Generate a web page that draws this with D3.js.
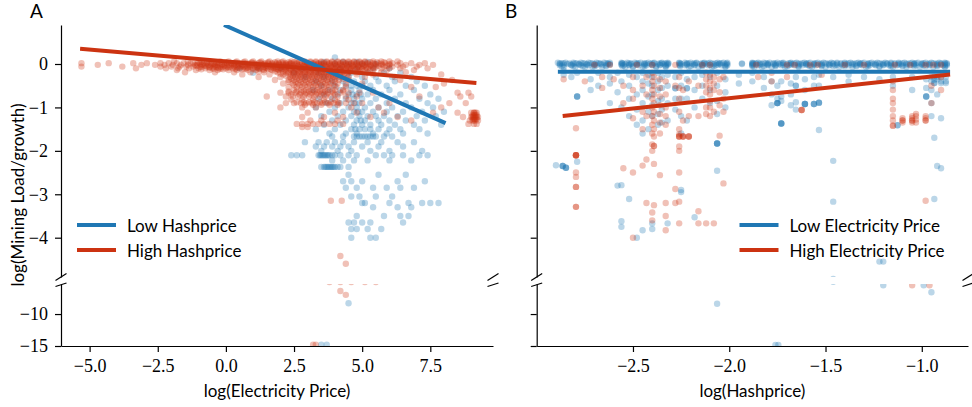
<!DOCTYPE html>
<html>
<head>
<meta charset="utf-8">
<script src="https://cdn.jsdelivr.net/npm/d3@7/dist/d3.min.js"></script>
<style>
  body { margin: 0; background: #fff; }
  .lab { font-family: Lato, "Open Sans", sans-serif; fill: #000; }
  .tick text { font-family: "Liberation Serif"; font-size: 18px; }
</style>
</head>
<body>
<svg id="chart" width="972" height="407"></svg>
<script>
// ---- data ----
// panel A: rows of [y, [x values]]  (x = log electricity price)
const aHighRows = [
  [0.06, [-1.9,-1.4,-0.9,-0.6,-0.2,0.1,0.4,0.7,1.0,1.3,1.6,1.9,2.1,2.4,2.6,2.9,3.1,3.3,3.5,3.7,3.9,4.1,4.3,4.5,4.7,4.9,5.1,5.4,5.7,6.0,6.3]],
  [0.04, [-1.0,-0.7,-0.35,0.0,0.35,0.65,0.95,1.25,1.55,1.8,2.05,2.3,2.5,2.7,2.9,3.1,3.3,3.5,3.7,3.9,4.1,4.3,4.5,4.7,4.9,5.1,5.3,5.55,5.8]],
  [0.02, [-5.3,-4.3,-3.4,-2.9,-2.4,-2.1,-1.8,-1.55,-1.3,-1.05,-0.8,-0.55,-0.3,-0.05,0.2,0.45,0.7,0.95,1.2,1.45,1.7,1.95,2.2,2.4,2.6,2.8,3.0,3.2,3.4,3.6,3.8,4.0,4.2,4.4,4.6,4.8,5.0,5.2,5.4,5.6,5.85,6.1,6.4,6.8,7.3]],
  [0.01, [-1.2,-0.95,-0.7,-0.45,-0.25,0.05,0.3,0.55,0.85,1.05,1.3,1.55,1.85,2.1,2.35]],
  [0.0, [-0.85,-0.5,-0.15,0.2,0.5,0.8,1.1,1.4,1.7,1.95,2.2,2.4,2.6,2.8,3.0,3.2,3.4,3.6,3.8,4.0,4.2,4.4,4.6,4.8,5.0,5.2,5.45,5.7,6.0]],
  [-0.02, [-4.7,-3.1,-2.6,-2.25,-1.95,-1.65,-1.4,-1.15,-0.9,-0.65,-0.4,-0.15,0.1,0.35,0.6,0.85,1.1,1.35,1.6,1.85,2.1,2.3,2.5,2.7,2.9,3.1,3.3,3.5,3.7,3.9,4.1,4.3,4.5,4.7,4.9,5.1,5.3,5.5,5.75,6.0,6.3,6.6,7.1,7.6]],
  [-0.03, [-1.05,-0.8,-0.55,-0.3,-0.05,0.2,0.45,0.7,0.95,1.2,1.45,1.7,1.95,2.2]],
  [-0.04, [-1.1,-0.75,-0.4,-0.05,0.3,0.6,0.9,1.2,1.5,1.75,2.0,2.25,2.45,2.65,2.85,3.05,3.25,3.45,3.65,3.85,4.05,4.25,4.45,4.65,4.85,5.05,5.3,5.6,5.9]],
  [-0.06, [-5.3,-3.8,-2.4,-2.0,-1.7,-1.45,-1.2,-0.95,-0.7,-0.45,-0.2,0.05,0.3,0.55,0.8,1.05,1.3,1.55,1.8,2.05,2.25,2.45,2.65,2.85,3.05,3.25,3.45,3.65,3.85,4.05,4.25,4.45,4.65,4.85,5.05,5.25,5.5,5.8,6.1,6.5,7.0]],
  [-0.07, [-0.9,-0.6,-0.35,-0.1,0.15,0.4,0.65,0.9,1.15,1.4,1.65,1.9,2.15]],
  [-0.08, [-0.6,-0.3,0.1,0.45,0.8,1.15,1.45,1.75,2.0,2.3,2.5,2.7,2.9,3.1,3.3,3.5,3.7,3.9,4.1,4.3,4.5,4.7,4.9,5.15,5.4]],
  [-0.1, [-3.3,-2.2,-1.75,-1.35,-1.0,-0.75,-0.5,-0.25,0.0,0.25,0.5,0.75,1.0,1.25,1.5,1.75,2.0,2.2,2.4,2.6,2.8,3.0,3.2,3.4,3.6,3.8,4.0,4.2,4.4,4.6,4.8,5.0,5.2,5.45,5.7,6.0,6.4,7.4]],
  [-0.11, [-0.45,-0.2,0.35,0.7,1.2,1.55,1.85,2.05]],
  [-0.12, [-0.9,-0.1,0.6,1.0,1.35,1.65,1.9,2.15,2.35,2.55,2.75,2.95,3.15,3.35,3.55,3.75,3.95,4.15,4.35,4.55,4.75,5.0,5.3]],
  [-0.14, [-1.8,-1.1,-0.6,-0.3,0.1,0.4,0.8,1.1,1.4,1.7,1.95,2.2,2.4,2.6,2.8,3.0,3.2,3.4,3.6,3.8,4.0,4.2,4.4,4.6,4.85,5.1,5.4,5.9,6.9]],
  [-0.17, [1.2,1.8,2.1,2.3,2.5,2.7,2.9,3.1,3.3,3.5,3.7,3.9,4.1,4.3,4.55,4.9]],
  [-0.19, [-1.5,-0.4,0.3,0.9,1.4,1.9,2.2,2.45,2.65,2.85,3.05,3.25,3.45,3.65,3.85,4.05,4.25,4.5,4.8,5.2,5.7,6.6]],
  [-0.22, [2.0,2.3,2.5,2.7,2.9,3.1,3.3,3.5,3.7,3.9,4.1,4.35]],
  [-0.24, [0.6,1.6,2.1,2.4,2.6,2.8,3.0,3.2,3.4,3.6,3.8,4.0,4.2,4.45,4.8,5.4,7.9]],
  [-0.27, [2.2,2.45,2.65,2.85,3.05,3.25,3.45,3.65,3.85,4.05,4.3]],
  [-0.3, [1.2,2.0,2.35,2.55,2.75,2.95,3.15,3.35,3.55,3.75,3.95,4.2,4.5,5.1,6.2]],
  [-0.34, [2.4,2.6,2.8,3.0,3.2,3.4,3.6,3.8,4.0,4.3]],
  [-0.37, [1.8,2.3,2.5,2.7,2.9,3.1,3.3,3.5,3.7,3.9,4.15,4.5,6.4,8.3]],
  [-0.41, [2.3,2.55,2.75,2.95,3.15,3.35,3.55,3.75,4.0]],
  [-0.45, [2.1,2.45,2.65,2.85,3.05,3.25,3.45,3.65,3.85,4.1,4.4,5.0,8.0]],
  [-0.49, [2.5,2.7,2.9,3.1,3.3,3.5,3.7,3.95]],
  [-0.53, [2.3,2.6,2.8,3.0,3.2,3.4,3.6,3.8,4.05,4.4,6.8,7.7]],
  [-0.6, [2.5,2.75,2.95,3.15,3.35,3.55,3.75,4.0,4.3]],
  [-0.63, [2.3,2.6,2.85,3.05,3.25,3.45,3.65,3.9,4.3]],
  [-0.66, [2.0,2.3,2.55,2.75,2.95,3.15,3.35,3.55,3.75,3.95,4.2,4.5,4.9,5.4,8.5,8.9]],
  [-0.7, [2.4,2.7,2.9,3.1,3.3,3.5,3.7,4.0]],
  [-0.75, [1.5,2.2,2.45,2.65,2.85,3.05,3.25,3.45,3.65,3.85,4.1,4.4,4.8,7.1,8.6,9.0]],
  [-0.82, [2.4,2.8,3.2,3.6,4.0,4.5]],
  [-0.88, [2.6,2.85,3.05,3.25,3.45,3.65,3.85,4.1]],
  [-0.9, [2.2,2.5,2.75,2.95,3.15,3.35,3.55,3.75,3.95,4.15,4.4,4.7,5.0,6.0,8.2,8.8]],
  [-0.94, [2.9,3.2,3.5,3.8,4.1]],
  [-1.0, [2.0,2.8,3.3,4.6,5.6,7.9]],
  [-1.12, [3.0,4.0,4.8,5.8,7.6,8.5,9.0,9.1,9.2,9.15,9.1]],
  [-1.18, [9.05,9.15,9.2,9.1]],
  [-1.22, [2.8,3.6,4.3,5.3,6.3,8.7,9.0,9.05,9.15,9.25,9.1,9.2]],
  [-1.26, [9.05,9.1,9.2,9.15]],
  [-1.3, [3.1,3.5,4.1,6.8,8.95,9.05,9.15,9.25,9.1]],
  [-1.38, [2.6,2.8,3.0,3.2,3.4,3.6,3.8,4.0,4.3,8.9,9.1,9.2]],
  [-1.45, [2.8,3.0]],
  [-3.15, [3.85,4.25]],
  [-4.42, [4.2]],
  [-4.6, [4.4]],
  [-5.0, [3.8,4.2,4.6,5.1,5.5]],
  [-6.4, [4.2]],
  [-7.0, [4.4]],
  [-14.8, [3.2,3.3]]
];
const aLowRows = [
  [0.15, [4.0]],
  [0.05, [3.6,4.3,4.8,5.2]],
  [0.0, [3.0,3.5,4.0,4.5,5.0,5.5]],
  [-0.1, [0.5,1.2,2.0,2.8,3.5,4.2,4.8,5.4,6.0]],
  [-0.2, [1.0,2.5,3.4,4.0,4.6,5.2,5.8,6.4]],
  [-0.3, [2.9,3.6,4.1,4.5,5.0,5.5,6.1,6.8]],
  [-0.4, [3.3,3.9,4.3,4.7,5.1,5.6,6.2,7.0]],
  [-0.5, [3.5,4.0,4.4,4.8,5.3,5.9,6.6,7.3,4.6,5.0]],
  [-0.6, [3.2,3.8,4.2,4.6,4.9,5.4,6.0,6.9]],
  [-0.7, [3.6,4.1,4.5,4.8,5.2,5.7,6.4,7.5,4.65,4.95]],
  [-0.8, [3.4,3.9,4.4,4.7,5.0,5.5,6.2,7.1,7.8]],
  [-0.9, [3.7,4.2,4.6,4.9,5.3,5.9,6.6,7.4,4.75]],
  [-1.0, [3.3,4.0,4.5,4.8,5.1,5.6,6.1,6.8,7.6]],
  [-1.1, [3.8,4.3,4.7,5.0,5.4,5.9,6.5,7.2,8.0,4.85]],
  [-1.2, [3.5,4.1,4.6,4.9,5.2,5.5,5.8,6.3,7.0,7.7]],
  [-1.3, [3.9,4.4,4.8,5.1,5.6,6.0,6.6,7.3,4.95]],
  [-1.4, [3.6,4.2,4.7,5.0,5.3,5.7,6.2,6.9,7.9]],
  [-1.5, [3.3,4.0,4.6,4.9,5.1,5.3,5.6,6.0,6.4,7.1,4.75]],
  [-1.6, [3.8,4.4,4.8,5.4,5.9,6.5,7.4]],
  [-1.67, [3.9,4.3,4.7,4.9,5.1,5.3,5.5,5.8,6.1,4.8,5.2,5.0,5.4]],
  [-1.8, [2.9,3.4,3.7,4.0,4.3,4.7,5.2,5.7,6.3,6.9]],
  [-1.9, [3.3,3.6,3.9,4.2,4.5,5.0,5.6,6.5]],
  [-2.0, [3.5,4.1,4.6,5.3,6.0,7.2]],
  [-2.1, [2.4,2.6,2.8,3.4,3.5,3.6,3.7,3.8,3.9,4.0,4.2,4.5,4.8,5.5,5.8,6.1,6.5,7.1,7.4,3.55,3.75,3.45,3.65]],
  [-2.22, [3.9,4.3,4.7,5.2,6.0,6.8]],
  [-2.37, [3.5,3.6,3.7,3.8,3.9,4.0,4.1,4.2,4.5,3.65,3.85,3.75,3.95]],
  [-2.55, [4.5,5.6,6.6]],
  [-2.7, [4.3,4.6,5.0,6.3,7.3]],
  [-2.85, [4.4,4.8,5.4,5.9,6.4,6.9]],
  [-3.05, [4.6,4.9,5.5,6.1]],
  [-3.2, [5.0,5.1,6.0,6.7,7.2,7.5,7.8]],
  [-3.3, [5.4,6.3,6.8]],
  [-3.5, [4.8,5.8,6.4,6.7]],
  [-3.65, [4.5,4.7,5.0,5.3,6.5]],
  [-3.8, [4.6,4.8,5.2,5.7]],
  [-4.0, [4.6,5.3,5.5]],
  [-8.3, [4.5]],
  [-14.8, [3.5,3.7]]
];

// panel B: x = log hashprice
const bLowRows = [
  [0.03, [-2.89,-2.85,-2.81,-2.77,-2.73,-2.69,-2.65,-2.62,-2.56,-2.53,-2.49,-2.46,-2.42,-2.39,-2.35,-2.32,-2.26,-2.23,-2.2,-2.17,-2.13,-2.1,-2.06,-2.03,-2.01,-1.88,-1.85,-1.82,-1.79,-1.75,-1.72,-1.68,-1.65,-1.61,-1.58,-1.54,-1.51,-1.47,-1.44,-1.4,-1.37,-1.33,-1.3,-1.26,-1.23,-1.19,-1.16,-1.12,-1.09,-1.05,-1.02,-0.98,-0.95,-0.91,-0.88]],
  [0.02, [-2.88,-2.86,-2.8,-2.76,-2.72,-2.68,-2.64,-2.555,-2.52,-2.48,-2.44,-2.4,-2.36,-2.33,-2.26,-2.22,-2.18,-2.14,-2.11,-2.07,-2.04,-1.88,-1.86,-1.81,-1.77,-1.73,-1.69,-1.66,-1.62,-1.59,-1.55,-1.5,-1.46,-1.42,-1.38,-1.34,-1.31,-1.27,-1.22,-1.18,-1.14,-1.1,-1.06,-1.03,-0.99,-0.94,-0.9,-0.87]],
  [0.015, [-2.87,-2.83,-2.79,-2.75,-2.71,-2.67,-2.63,-2.555,-2.51,-2.47,-2.43,-2.39,-2.35,-2.315,-2.255,-2.21,-2.17,-2.13,-2.09,-2.05,-2.015,-1.934,-1.875,-1.84,-1.8,-1.76,-1.72,-1.68,-1.64,-1.6,-1.56,-1.52,-1.48,-1.44,-1.4,-1.36,-1.32,-1.28,-1.24,-1.2,-1.16,-1.12,-1.08,-1.04,-1.0,-0.96,-0.92,-0.88]],
  [0.0, [-2.88,-2.84,-2.81,-2.78,-2.74,-2.7,-2.67,-2.63,-2.62,-2.56,-2.54,-2.51,-2.48,-2.44,-2.41,-2.37,-2.34,-2.32,-2.25,-2.22,-2.19,-2.15,-2.12,-2.08,-2.05,-2.01,-1.934,-1.88,-1.86,-1.83,-1.8,-1.77,-1.74,-1.7,-1.67,-1.63,-1.6,-1.56,-1.53,-1.49,-1.46,-1.42,-1.39,-1.35,-1.32,-1.28,-1.25,-1.21,-1.18,-1.14,-1.11,-1.07,-1.04,-1.0,-0.97,-0.93,-0.9,-0.87]],
  [-0.015, [-2.86,-2.82,-2.78,-2.74,-2.7,-2.66,-2.62,-2.56,-2.52,-2.48,-2.44,-2.4,-2.36,-2.32,-2.26,-2.22,-2.18,-2.14,-2.1,-2.06,-2.02,-1.88,-1.84,-1.8,-1.76,-1.72,-1.68,-1.64,-1.6,-1.56,-1.52,-1.48,-1.44,-1.4,-1.36,-1.32,-1.28,-1.24,-1.2,-1.16,-1.12,-1.08,-1.04,-1.0,-0.96,-0.92,-0.88]],
  [-0.03, [-2.88,-2.82,-2.77,-2.73,-2.69,-2.64,-2.55,-2.52,-2.47,-2.43,-2.4,-2.36,-2.33,-2.255,-2.23,-2.18,-2.14,-2.11,-2.07,-2.04,-2.01,-1.88,-1.85,-1.8,-1.76,-1.73,-1.69,-1.66,-1.62,-1.59,-1.55,-1.52,-1.48,-1.45,-1.41,-1.38,-1.34,-1.31,-1.27,-1.24,-1.2,-1.17,-1.13,-1.1,-1.06,-1.03,-0.99,-0.96,-0.92,-0.89,-0.87]],
  [-0.05, [-2.87,-2.81,-2.76,-2.7,-2.64,-2.555,-2.5,-2.44,-2.38,-2.33,-2.255,-2.2,-2.14,-2.08,-2.02,-1.88,-1.82,-1.76,-1.7,-1.64,-1.58,-1.52,-1.46,-1.4,-1.34,-1.28,-1.22,-1.16,-1.1,-1.04,-0.98,-0.92,-0.88]],
  [-0.07, [-2.86,-2.8,-2.75,-2.71,-2.66,-2.54,-2.5,-2.45,-2.38,-2.33,-2.21,-2.16,-2.09,-2.02,-1.87,-1.83,-1.78,-1.71,-1.64,-1.57,-1.5,-1.43,-1.36,-1.29,-1.22,-1.15,-1.08,-1.01,-0.94,-0.88]]
];
// columns of [x, [y values]]
const bLowCols = [
  [-2.86, [-0.15,-0.25]], [-2.82, [-0.3]], [-2.79, [-0.75,-0.75,-0.75,-0.2,-2.25]],
  [-2.9, [-2.33]], [-2.865, [-2.35,-2.35,-2.35]], [-2.848, [-2.39,-2.39,-2.39]],
  [-2.72, [-0.35,-0.6]], [-2.68, [-0.2,-0.5]], [-2.62, [-0.3,-0.45,-0.9]],
  [-2.58, [-0.2,-0.65,-2.8]], [-2.56, [-0.4,-1.0,-2.79,-3.62,-3.75]],
  [-2.52, [-0.25,-0.5,-0.8,-1.2,-3.11]], [-2.48, [-0.3,-0.7,-1.05,-1.4,-4.0]],
  [-2.45, [-0.2,-0.4,-0.6,-0.9,-1.3,-1.6,-3.83]], [-2.42, [-0.25,-0.45,-0.75,-1.1,-1.5]],
  [-2.4, [-0.3,-0.5,-0.7,-0.95,-1.2,-3.67,-3.8]], [-2.37, [-0.2,-0.4,-0.6,-0.85,-1.15,-1.4]],
  [-2.35, [-0.3,-0.55,-0.8,-1.05,-1.35]], [-2.32, [-0.25,-0.5,-0.9,-1.3,-3.67]],
  [-2.28, [-0.3,-0.56,-0.56,-0.8,-1.05]], [-2.25, [-0.2,-0.5,-0.8,-1.2,-1.6,-2.9,-2.95]],
  [-2.22, [-0.35,-0.56,-0.56,-0.8,-1.3]], [-2.18, [-0.3,-0.6,-1.0,-3.53]],
  [-2.14, [-0.25,-0.5,-0.8]], [-2.1, [-0.3,-0.6,-0.9]],
  [-2.063, [-0.2,-0.5,-0.85,-1.15,-1.83,-1.83,-1.83,-1.83,-2.46]], [-2.02, [-0.35,-0.65,-1.0]],
  [-1.95, [-0.25,-0.45]], [-1.88, [-0.2,-0.4]], [-1.82, [-0.3,-0.55]],
  [-1.78, [-0.4,-0.7,-0.95]], [-1.75, [-0.5,-0.8,-0.9,-0.9,-0.9,-0.9]],
  [-1.73, [-0.4,-0.75,-0.85,-1.37,-1.37,-1.37,-1.37]], [-1.68, [-0.45,-0.7,-0.95]],
  [-1.654, [-0.3,-0.5,-0.5,-0.88,-1.05]], [-1.607, [-0.35,-0.6,-0.92,-0.92,-0.92,-0.92]],
  [-1.56, [-0.3,-0.5,-0.92,-0.92,-0.92]], [-1.534, [-0.25,-0.5,-0.89,-0.89,-0.89,-1.52]],
  [-1.46, [-0.3,-2.23,-3.17]], [-1.38, [-0.25,-0.4]], [-1.3, [-0.3]],
  [-1.22, [-0.35,-4.55]], [-1.15, [-0.3,-0.5]], [-1.126, [-1.41,-1.41]],
  [-1.05, [-0.3,-0.6]], [-0.977, [-0.35,-0.55,-0.75,-0.75,-0.75]],
  [-0.95, [-0.3,-0.4,-0.6,-0.9,-1.2]], [-0.935, [-0.29,-0.36,-0.44,-0.44,-1.7,-3.11]],
  [-0.92, [-0.3,-0.35,-0.7,-2.35]], [-0.9, [-0.3,-0.4,-0.44,-1.25,-2.4]],
  [-0.875, [-0.3,-0.4,-0.44]],
  [-2.063, [-8.4]], [-1.76, [-14.85]], [-1.745, [-14.85]],
  [-0.95, [-6.6]], [-0.99, [-5.5]], [-1.2, [-5.5,-4.55]], [-1.46, [-4.95]]
];
const bHighRows = [
  [-0.02, [-2.7,-2.62,-2.48,-2.4,-2.28,-2.14,-2.1,-1.86,-1.7,-1.66,-1.58,-1.54,-1.4,-1.3,-1.14,-1.06,-0.98,-0.94,-0.9]]
];
const bHighCols = [
  [-2.86, [-0.35]], [-2.796, [-2.1,-2.1,-2.1,-2.1,-2.1,-1.48,-2.5,-2.6,-2.83,-2.83,-3.29,-3.29]],
  [-2.75, [-0.4]], [-2.66, [-0.3,-0.55]], [-2.6, [-0.35]],
  [-2.55, [-0.5,-0.9,-2.4]], [-2.5, [-0.3,-0.6,-0.8,-1.25,-2.5,-4.0]],
  [-2.45, [-0.5,-1.1,-1.5,-2.34]], [-2.43, [-0.3,-0.7,-1.2,-2.2,-3.2]],
  [-2.4, [-0.2,-0.4,-0.6,-0.8,-1.0,-1.2,-1.4,-1.6,-1.85,-2.0,-3.42,-3.6]],
  [-2.391, [-0.3,-0.5,-0.7,-0.9,-1.1,-1.3,-1.5,-1.67,-1.89,-1.89,-2.3,-3.25]],
  [-2.36, [-0.35,-0.55,-0.75,-0.95,-1.15,-1.35,-1.6,-2.56]],
  [-2.33, [-0.4,-0.7,-1.0,-1.2,-1.4,-3.5,-3.2,-3.83]],
  [-2.28, [-0.5,-2.88,-3.2]],
  [-2.26, [-0.3,-0.55,-0.8,-1.1,-1.5,-1.62,-1.67,-1.67,-1.67,-1.9,-2.0,-2.5,-3.17,-3.67]],
  [-2.24, [-0.6,-1.3,-1.67,-1.67,-1.67]], [-2.21, [-0.4,-1.2,-1.67,-1.67,-1.67]],
  [-2.16, [-0.5,-1.2,-3.39,-3.67]], [-2.12, [-0.2,-0.35,-0.5,-0.65,-1.0,-1.15,-3.67]],
  [-2.1, [-0.25,-0.4,-0.55,-0.7,-0.85,-1.0,-1.2]], [-2.08, [-0.3,-0.45,-0.6,-1.1,-3.67]],
  [-2.05, [-0.35,-0.65,-0.95,-1.65]], [-2.03, [-0.3,-0.8,-1.1,-2.75]],
  [-1.85, [-0.3]], [-1.78, [-0.2,-0.4]], [-1.7, [-0.3]], [-1.624, [-1.06,-1.06,-1.06]],
  [-1.52, [-0.25]],
  [-1.15, [-0.4,-0.6,-0.8,-0.9,-1.05,-1.2,-1.3,-1.42,-1.42]],
  [-1.1, [-1.25,-1.3,-1.35,-1.3]], [-1.05, [-1.2,-1.25,-1.3,-1.3,-1.35]],
  [-1.03, [-1.15,-1.2,-1.28,-1.35]], [-0.98, [-1.2,-1.25,-1.3,-1.3,-3.15]],
  [-0.95, [-0.5,-0.9]], [-0.9, [-0.3,-0.6]],
  [-1.05, [-5.5]], [-0.96, [-5.5]]
];

// regression lines: [[x0, y0], [x1, y1]]
const lineALow = [[-0.07, 0.9], [8.06, -1.36]];
const lineAHigh = [[-5.35, 0.35], [9.19, -0.44]];
const lineBLow = [[-2.89, -0.177], [-0.853, -0.177]];
const lineBHigh = [[-2.865, -1.2], [-0.853, -0.24]];

const xTicksA = [-5, -2.5, 0, 2.5, 5, 7.5];
const xTicksB = [-2.5, -2, -1.5, -1];
const yTicksTop = [0, -1, -2, -3, -4];
const yTicksBottom = [-10, -15];

// ---- layout ----
const BLUE = "#1f77b4", RED = "#cc3311";
const TOP = { y0: 25, y1: 277, dom: [-4.905, 0.898] };
const BOT = { y0: 284, y1: 346, dom: [-15, -5.3] };
const svg = d3.select("#chart");

const rowsToPts = rows => rows.flatMap(([y, xs]) => xs.map(x => [x, y]));
const colsToPts = cols => cols.flatMap(([x, ys]) => ys.map(y => [x, y]));
const fmt = d => (d < 0 ? "\u2212" : "") + d3.format(".1f")(Math.abs(d));
const fmtY = d => (d < 0 ? "\u2212" : "") + Math.abs(d);

function drawPanel(cfg) {
  const x = d3.scaleLinear().domain(cfg.xDomain).range([cfg.left, cfg.right]);
  const yT = d3.scaleLinear().domain(TOP.dom).range([TOP.y1, TOP.y0]);
  const yB = d3.scaleLinear().domain(BOT.dom).range([BOT.y1, BOT.y0]);
  const g = svg.append("g");

  [["t", yT, TOP], ["b", yB, BOT]].forEach(([k, y, box]) => {
    const id = "clip-" + cfg.name + k;
    g.append("clipPath").attr("id", id).append("rect")
      .attr("x", cfg.left).attr("y", box.y0)
      .attr("width", cfg.right - cfg.left).attr("height", box.y1 - box.y0);
    const area = g.append("g").attr("clip-path", `url(#${id})`);
    cfg.series.forEach(s => {
      area.append("g").selectAll("circle").data(s.pts).join("circle")
        .attr("cx", d => x(d[0])).attr("cy", d => y(d[1]))
        .attr("r", 3.2).attr("fill", s.color).attr("fill-opacity", 0.3);
    });
    cfg.lines.forEach(l => {
      area.append("path").datum(l.pts)
        .attr("d", d3.line().x(d => x(d[0])).y(d => y(d[1])))
        .attr("stroke", l.color).attr("stroke-width", 4).attr("fill", "none");
    });
  });

  // axes
  const yAxT = g.append("g").attr("transform", `translate(${cfg.left},0)`)
    .call(d3.axisLeft(yT).tickValues(yTicksTop).tickSize(6).tickSizeOuter(0).tickPadding(7)
      .tickFormat(cfg.yLabels ? fmtY : ""));
  const yAxB = g.append("g").attr("transform", `translate(${cfg.left},0)`)
    .call(d3.axisLeft(yB).tickValues(yTicksBottom).tickSize(6).tickSizeOuter(0).tickPadding(7)
      .tickFormat(cfg.yLabels ? fmtY : ""));
  const xAx = g.append("g").attr("transform", `translate(0,${BOT.y1})`)
    .call(d3.axisBottom(x).tickValues(cfg.xTicks).tickSize(6).tickSizeOuter(0).tickPadding(7)
      .tickFormat(fmt));
  [yAxT, yAxB, xAx].forEach(a => {
    a.attr("font-family", "Liberation Serif").attr("font-size", 18);
    a.selectAll("path, line").attr("stroke", "#000").attr("stroke-width", 1.2);
    a.selectAll("text").attr("fill", "#000");
  });

  // break marks
  [cfg.left, cfg.right].forEach(bx => {
    g.append("line").attr("x1", bx - 5.5).attr("y1", TOP.y1 + 3.5)
      .attr("x2", bx + 5.5).attr("y2", TOP.y1 - 3.5).attr("stroke", "#000").attr("stroke-width", 1.2);
    g.append("line").attr("x1", bx - 5.5).attr("y1", BOT.y0 + 2.5)
      .attr("x2", bx + 5.5).attr("y2", BOT.y0 - 1).attr("stroke", "#000").attr("stroke-width", 1.2);
  });

  // legend
  cfg.lines.forEach((l, i) => {
    const ly = 225 + i * 25;
    g.append("line").attr("x1", cfg.legendX).attr("x2", cfg.legendX + 39)
      .attr("y1", ly).attr("y2", ly).attr("stroke", l.color).attr("stroke-width", 4);
    g.append("text").attr("class", "lab").attr("x", cfg.legendX + 50).attr("y", ly + 6.5)
      .attr("font-size", 17).text(l.label);
  });

  g.append("text").attr("class", "lab").attr("x", (cfg.left + cfg.right) / 2).attr("y", 396.5)
    .attr("text-anchor", "middle").attr("font-size", 17).text(cfg.xLabel);
  g.append("text").attr("class", "lab").attr("x", cfg.panelX).attr("y", 17.5)
    .attr("font-size", 19).text(cfg.name);
}

drawPanel({
  name: "A", left: 61, right: 493, xDomain: [-6.05, 9.8], xTicks: xTicksA, yLabels: true,
  series: [{ pts: rowsToPts(aLowRows), color: BLUE }, { pts: rowsToPts(aHighRows), color: RED }],
  lines: [{ pts: lineALow, color: BLUE, label: "Low Hashprice" },
          { pts: lineAHigh, color: RED, label: "High Hashprice" }],
  legendX: 77, xLabel: "log(Electricity Price)", panelX: 30
});
drawPanel({
  name: "B", left: 536.7, right: 968, xDomain: [-3.0, -0.76], xTicks: xTicksB, yLabels: false,
  series: [{ pts: rowsToPts(bLowRows).concat(colsToPts(bLowCols)), color: BLUE },
           { pts: rowsToPts(bHighRows).concat(colsToPts(bHighCols)), color: RED }],
  lines: [{ pts: lineBLow, color: BLUE, label: "Low Electricity Price" },
          { pts: lineBHigh, color: RED, label: "High Electricity Price" }],
  legendX: 739.5, xLabel: "log(Hashprice)", panelX: 505
});

svg.append("text").attr("class", "lab")
  .attr("transform", "translate(24,195) rotate(-90)")
  .attr("text-anchor", "middle").attr("font-size", 17)
  .text("log(Mining Load/growth)");
</script>
</body>
</html>
